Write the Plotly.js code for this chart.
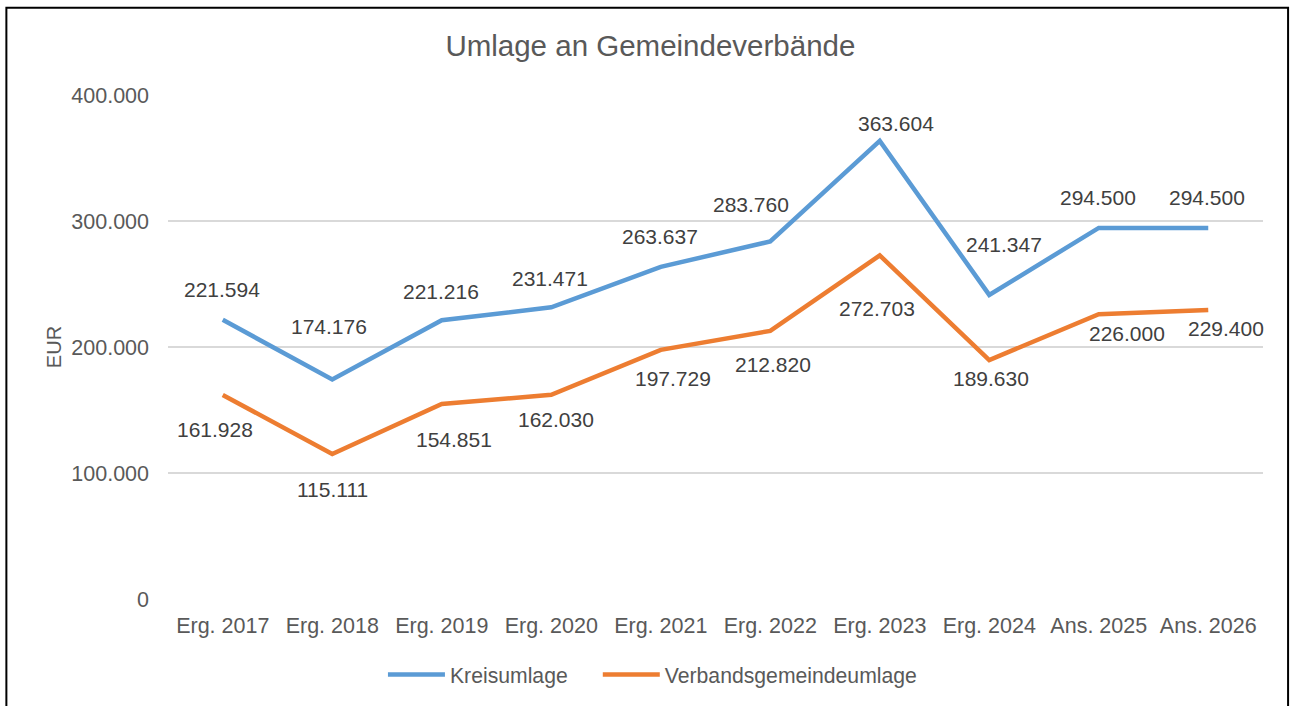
<!DOCTYPE html>
<html>
<head>
<meta charset="utf-8">
<script src="https://cdn.plot.ly/plotly-3.0.1.min.js"></script>
<style>
html,body{margin:0;padding:0;background:#fff;}
#chart{width:1293px;height:706px;}
</style>
</head>
<body>
<div id="chart"></div>
<script>
const categories = ["Erg. 2017","Erg. 2018","Erg. 2019","Erg. 2020","Erg. 2021","Erg. 2022","Erg. 2023","Erg. 2024","Ans. 2025","Ans. 2026"];
const kreisumlage = [221594,174176,221216,231471,263637,283760,363604,241347,294500,294500];
const verbandsgemeindeumlage = [161928,115111,154851,162030,197729,212820,272703,189630,226000,229400];
const seriesNames = ["Kreisumlage","Verbandsgemeindeumlage"];
const yTickVals = [0,100000,200000,300000,400000];

// label offsets (px) for data labels, as placed in the reference
const kreisShiftX = [-1,-3,-1,-1,-1,-19,16,15,-1,-1];
const kreisShiftY = [30,53,29,29,30,37,17,50,30,30];
const verbShiftX = [-8,0,12,5,12,3,-3,2,28,18];
const verbShiftY = [-35,-36,-36,-25,-29,-34,-53,-18,-19,-19];

function fmt(v){ return String(Math.round(v)).replace(/\B(?=(\d{3})+(?!\d))/g,"."); }

const blue = "#5B9BD5", orange = "#ED7D31";
const font = "Liberation Sans, Arial, sans-serif";

const traces = [
  {x:categories,y:kreisumlage,name:seriesNames[0],type:"scatter",mode:"lines",
   line:{color:blue,width:4.5},hoverinfo:"skip",legend:"legend"},
  {x:categories,y:verbandsgemeindeumlage,name:seriesNames[1],type:"scatter",mode:"lines",
   line:{color:orange,width:4.5},hoverinfo:"skip",legend:"legend2"}
];

const annotations = [];
categories.forEach((c,i)=>{
  annotations.push({x:c,y:kreisumlage[i],xref:"x",yref:"y",text:fmt(kreisumlage[i]),showarrow:false,
    xshift:kreisShiftX[i],yshift:kreisShiftY[i],font:{family:font,size:21,color:"#404040"}});
  annotations.push({x:c,y:verbandsgemeindeumlage[i],xref:"x",yref:"y",text:fmt(verbandsgemeindeumlage[i]),showarrow:false,
    xshift:verbShiftX[i],yshift:verbShiftY[i],font:{family:font,size:21,color:"#404040"}});
});

const legendBase = {orientation:"h",xanchor:"left",y:-0.148,yanchor:"middle",
  font:{family:font,size:21.2,color:"#595959"},itemwidth:57,bgcolor:"rgba(0,0,0,0)"};

const layout = {
  width:1293,height:706,
  paper_bgcolor:"#ffffff",plot_bgcolor:"#ffffff",
  separators:",.",
  margin:{l:168,r:30,t:95,b:106},
  font:{family:font,size:21,color:"#595959"},
  title:{text:"Umlage an Gemeindeverbände",font:{family:font,size:29.5,color:"#595959"},
    xref:"container",yref:"container",x:0.503,y:0.936,xanchor:"center",yanchor:"middle"},
  xaxis:{type:"category",range:[-0.5,9.5],showgrid:false,zeroline:false,showline:false,ticks:"",
    tickfont:{family:font,size:21.5,color:"#595959"},ticklabelstandoff:11,fixedrange:true},
  yaxis:{range:[0,400000],tickvals:yTickVals,tickformat:",d",showgrid:true,gridcolor:"#D9D9D9",gridwidth:1.5,
    zeroline:false,showline:false,ticks:"",ticklabelstandoff:18,
    tickfont:{family:font,size:21.5,color:"#595959"},
    title:{text:"EUR",font:{family:font,size:20,color:"#595959"},standoff:4},fixedrange:true},
  showlegend:true,
  legend:Object.assign({},legendBase,{x:0.1963}),
  legend2:Object.assign({},legendBase,{x:0.3925}),
  annotations:annotations,
  shapes:[{type:"rect",xref:"paper",yref:"paper",x0:-0.1476,x1:1.0229,y0:-0.225,y1:1.1733,
    line:{color:"#000000",width:2},fillcolor:"rgba(0,0,0,0)",layer:"above"}]
};

Plotly.newPlot("chart",traces,layout,{displayModeBar:false,staticPlot:true});
</script>
</body>
</html>
